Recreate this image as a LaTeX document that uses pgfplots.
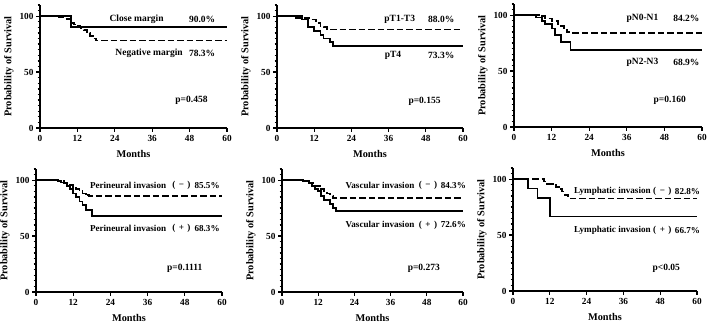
\documentclass[border=0pt]{standalone}
\usepackage{fontspec}
\setmainfont{Liberation Serif}
\usepackage{pgfplots}
\pgfplotsset{compat=1.18}
\tikzset{lab/.style={font=\bfseries\fontsize{9.5}{10}\selectfont, inner sep=1pt},
         labs/.style={font=\bfseries\fontsize{9.1}{10}\selectfont, inner sep=1pt}}
\newcommand{\sgn}[1]{(\hspace{3.5pt}#1\hspace{3.5pt})}
\pgfplotsset{
  km/.style={
    scale only axis, height=123pt,
    xmin=0, xmax=60, ymin=0, ymax=110,
    axis lines=left, axis line style={line width=1.5pt,-},
    xtick={0,12,24,36,48,60}, ytick={0,50,100},
    minor ytick={5,10,...,110},
    tick align=outside,
    major tick length=4pt, minor tick length=2.5pt,
    every tick/.style={black,line width=1.3pt},
    /pgf/number format/assume math mode=true,
    tick label style={font=\bfseries\fontsize{9.3}{10}\selectfont},
    xticklabel style={yshift=0pt},
    yticklabel style={xshift=1pt},
    label style={font=\bfseries\fontsize{10.3}{11}\selectfont},
    xlabel={Months}, ylabel={Probability of Survival},
    xlabel style={yshift=-2pt},
    ylabel style={yshift=-1pt},
    clip=false,
  },
  sol/.style={const plot, black, line width=1.8pt, no marks},
  das/.style={const plot, black, line width=1.8pt, no marks, dash pattern=on 6.5pt off 3pt},
}
\begin{document}
\begin{tikzpicture}
\useasboundingbox (0,0) rectangle (709pt,323pt);
% ---------- Panel 1
\begin{axis}[km, width=187pt, at={(40pt,195pt)}, anchor=south west]
\addplot[das] coordinates {(0,100)(6,98.8)(8,97.5)(10,93.8)(11,92.5)(12,91)(13,89.5)(14,87.5)(15,85)(16,82.5)(17,80)(18,78.3)(60,78.3)};
\addplot[sol] coordinates {(0,100)(10,90)(60,90)};
\node[lab] at (axis cs:31,97) {Close margin};
\node[lab] at (axis cs:52,97) {90.0\%};
\node[lab] at (axis cs:35,67) {Negative margin};
\node[lab] at (axis cs:52,67) {78.3\%};
\node[lab] at (axis cs:48.6,25) {p=0.458};
\end{axis}
% ---------- Panel 2
\begin{axis}[km, width=186pt, at={(277pt,195pt)}, anchor=south west]
\addplot[das] coordinates {(0,100)(6,98.5)(11,97)(12.5,94)(14,91.5)(15,90)(16,88)(60,88)};
\addplot[sol] coordinates {(0,100)(8,97)(10,90)(12,87)(14,83)(15,80)(17,77)(18,73.3)(60,73.3)};
\node[lab] at (axis cs:39.6,97) {pT1-T3};
\node[lab] at (axis cs:53,97) {88.0\%};
\node[lab] at (axis cs:37.4,65) {pT4};
\node[lab] at (axis cs:53,65) {73.3\%};
\node[lab] at (axis cs:47.6,24) {p=0.155};
\end{axis}
% ---------- Panel 3
\begin{axis}[km, width=188pt, at={(514pt,196pt)}, anchor=south west]
\addplot[das] coordinates {(0,100)(8,99)(10,97)(12,95)(14,92)(15,90)(16,87)(17,85)(18,84.2)(60,84.2)};
\addplot[sol] coordinates {(0,100)(7,98)(9,95)(10,92)(12,88)(13,82)(15,76)(18,68.9)(60,68.9)};
\node[lab] at (axis cs:41,97) {pN0-N1};
\node[lab] at (axis cs:55,97) {84.2\%};
\node[lab] at (axis cs:41,58) {pN2-N3};
\node[lab] at (axis cs:55,58) {68.9\%};
\node[lab] at (axis cs:49.7,24) {p=0.160};
\end{axis}
% ---------- Panel 4
\begin{axis}[km, width=186pt, at={(36pt,31pt)}, anchor=south west]
\addplot[das] coordinates {(0,100)(7,99)(9,97.5)(11,96)(12,94)(13,92)(14,90)(15,88)(16,86.5)(17,85.5)(60,85.5)};
\addplot[sol] coordinates {(0,100)(7,99)(8,98)(10,95)(11,92)(12,88)(13,85)(14,81)(15,78)(16,73)(18,68.3)(60,68.3)};
\node[labs] at (axis cs:29.7,95) {Perineural invasion};
\node[labs] at (axis cs:46.9,95) {\sgn{−}};
\node[labs] at (axis cs:55.2,95) {85.5\%};
\node[labs] at (axis cs:29.7,57) {Perineural invasion};
\node[labs] at (axis cs:46.9,57) {\sgn{+}};
\node[labs] at (axis cs:55.2,57) {68.3\%};
\node[lab] at (axis cs:48,21.5) {p=0.1111};
\end{axis}
% ---------- Panel 5
\begin{axis}[km, width=181pt, at={(282pt,31pt)}, anchor=south west]
\addplot[das] coordinates {(0,100)(7,99)(9,97.5)(11,95)(13,92)(14,90)(15,88)(16,86)(17,84.3)(60,84.3)};
\addplot[sol] coordinates {(0,100)(7,99)(9,97)(10,95)(11,92)(12,90)(13,86)(14,82)(16,79)(17,75)(18,72.6)(60,72.6)};
\node[labs] at (axis cs:32.5,95) {Vascular invasion};
\node[labs] at (axis cs:48.4,95) {\sgn{−}};
\node[labs] at (axis cs:56.8,95) {84.3\%};
\node[labs] at (axis cs:32.5,60) {Vascular invasion};
\node[labs] at (axis cs:48.4,60) {\sgn{+}};
\node[labs] at (axis cs:56.8,60) {72.6\%};
\node[lab] at (axis cs:47,21.5) {p=0.273};
\end{axis}
% ---------- Panel 6
\begin{axis}[km, width=184pt, at={(513pt,32pt)}, anchor=south west]
\addplot[das] coordinates {(0,100)(10,98)(11,96)(13,95)(14,93)(15,91)(16,89)(17,86)(18,82.8)(60,82.8)};
\addplot[sol] coordinates {(0,100)(5,91.7)(8,83.3)(12,66.7)(60,66.7)};
\node[labs] at (axis cs:32.4,89) {Lymphatic invasion};
\node[labs] at (axis cs:48.7,89) {\sgn{−}};
\node[labs] at (axis cs:56.9,89) {82.8\%};
\node[labs] at (axis cs:32.4,54) {Lymphatic invasion};
\node[labs] at (axis cs:48.7,54) {\sgn{+}};
\node[labs] at (axis cs:56.9,54) {66.7\%};
\node[lab] at (axis cs:50,20) {p<0.05};
\end{axis}
\end{tikzpicture}
\end{document}
